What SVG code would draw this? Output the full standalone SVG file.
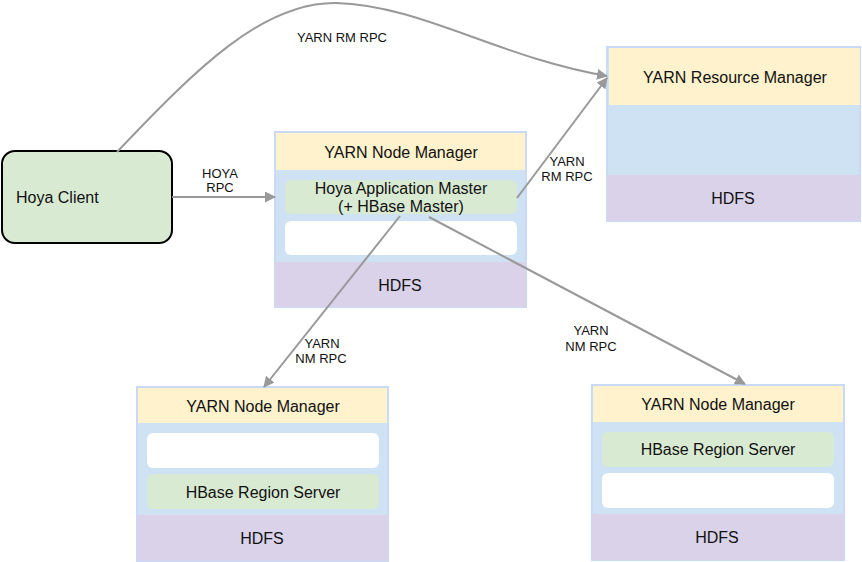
<svg xmlns="http://www.w3.org/2000/svg" width="862" height="562" viewBox="0 0 862 562">
<defs>
<marker id="ah" markerWidth="11" markerHeight="11" refX="10" refY="5.5" orient="auto" markerUnits="userSpaceOnUse" viewBox="0 0 11 11">
<path d="M0,0 L11,5.5 L0,11 Z" fill="#999999"/>
</marker>
</defs>
<style>
.outer{fill:#cfe2f3;stroke:#c9daf8;stroke-width:2}
.yel{fill:#fff2cc}
.pur{fill:#d9d2e9}
.grn{fill:#d9ead3}
.wht{fill:#ffffff}
.t{font-family:"Liberation Sans",Arial,sans-serif;font-size:16px;fill:#111;text-anchor:middle;dominant-baseline:central}
.s{font-family:"Liberation Sans",Arial,sans-serif;font-size:13px;fill:#111;text-anchor:middle;dominant-baseline:central}
.c{fill:none;stroke:#999999;stroke-width:2;marker-end:url(#ah)}
</style>

<g id="hoya-client">
<rect x="2" y="151" width="170" height="92" rx="13" fill="#d9ead3" stroke="#000" stroke-width="2"/>
<text class="t" x="16" y="197" style="text-anchor:start">Hoya Client</text>
</g>

<g id="node-manager-am">
<rect class="outer" x="275" y="132" width="251" height="175"/>
<rect class="yel" x="276" y="133" width="249" height="37"/>
<text class="t" x="401" y="152">YARN Node Manager</text>
<rect class="grn" x="285" y="180" width="232" height="34" rx="6"/>
<text class="t" x="401" y="188">Hoya Application Master</text>
<text class="t" x="401" y="206">(+ HBase Master)</text>
<rect class="wht" x="285" y="221" width="232" height="34" rx="6"/>
<rect class="pur" x="275" y="262" width="251" height="45"/>
<text class="t" x="400" y="285">HDFS</text>
</g>

<g id="resource-manager">
<rect class="outer" x="607" y="47" width="253" height="174"/>
<rect class="yel" x="609" y="48" width="251" height="57"/>
<text class="t" x="735" y="77">YARN Resource Manager</text>
<rect class="pur" x="607" y="175" width="253" height="46"/>
<text class="t" x="733" y="198">HDFS</text>
</g>

<g id="node-manager-left">
<rect class="outer" x="137" y="387" width="251" height="174"/>
<rect class="yel" x="138" y="388" width="249" height="35"/>
<text class="t" x="263" y="406">YARN Node Manager</text>
<rect class="wht" x="147" y="433" width="232" height="35" rx="6"/>
<rect class="grn" x="147" y="474" width="232" height="35" rx="6"/>
<text class="t" x="263" y="492">HBase Region Server</text>
<rect class="pur" x="137" y="515" width="251" height="46"/>
<text class="t" x="262" y="538">HDFS</text>
</g>

<g id="node-manager-right">
<rect class="outer" x="592" y="385" width="252" height="175"/>
<rect class="yel" x="593" y="386" width="250" height="36"/>
<text class="t" x="718" y="404">YARN Node Manager</text>
<rect class="grn" x="602" y="432" width="232" height="35" rx="6"/>
<text class="t" x="718" y="449">HBase Region Server</text>
<rect class="wht" x="602" y="473" width="232" height="35" rx="6"/>
<rect class="pur" x="592" y="514" width="252" height="46"/>
<text class="t" x="717" y="537">HDFS</text>
</g>

<g id="connectors">
<path class="c" d="M117,152 C195,70 262,2 336,3 C420,5 500,58 607,76"/>
<text class="s" x="342" y="37">YARN RM RPC</text>
<path class="c" d="M172,197 L275,197"/>
<text class="s" x="220" y="173">HOYA</text>
<text class="s" x="220" y="187">RPC</text>
<path class="c" d="M517,198 L607,78"/>
<text class="s" x="567" y="161">YARN</text>
<text class="s" x="567" y="176">RM RPC</text>
<path class="c" d="M400,216 L264,387"/>
<text class="s" x="322" y="343">YARN</text>
<text class="s" x="321" y="358">NM RPC</text>
<path class="c" d="M429,217 L745,384"/>
<text class="s" x="591" y="330">YARN</text>
<text class="s" x="591" y="346">NM RPC</text>
</g>
</svg>
